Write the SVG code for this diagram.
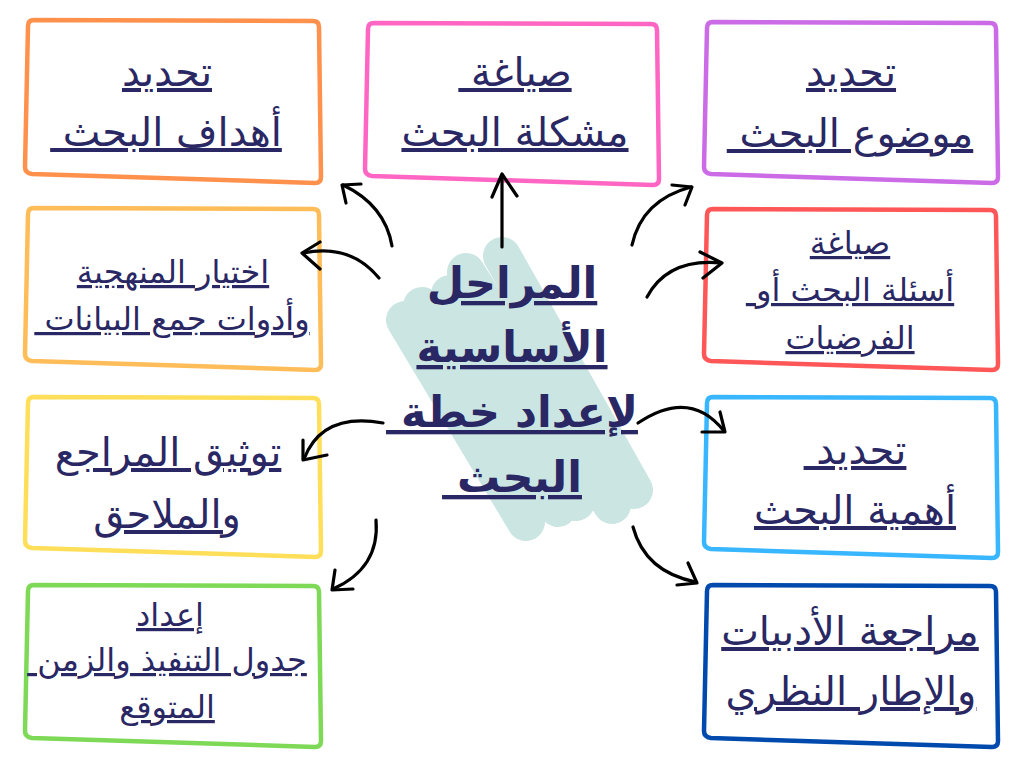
<svg xmlns="http://www.w3.org/2000/svg" width="1024" height="768" viewBox="0 0 1024 768">
<style>
.box{fill:none;stroke-width:4.5;stroke-linejoin:round}
.t{font-family:"DejaVu Sans","Noto Sans",sans-serif;fill:#2a2864;text-anchor:middle;text-decoration:underline;direction:rtl;unicode-bidi:embed}
.big{font-size:40px}
.small{font-size:32px}
.title{font-size:43px;font-weight:bold}
.arrow{fill:none;stroke:#000;stroke-width:3.2;stroke-linecap:round;stroke-linejoin:round}
.brush{fill:none;stroke:#cbe5e2;stroke-width:38;stroke-linecap:round}
</style>
<rect width="1024" height="768" fill="#fff"/>
<g id="center">
<g id="brush">
<line class="brush" x1="502" y1="256" x2="634" y2="490"/>
<line class="brush" x1="466" y1="272" x2="612" y2="505"/>
<line class="brush" x1="450" y1="294" x2="576" y2="502"/>
<line class="brush" x1="422" y1="306" x2="558" y2="508"/>
<line class="brush" x1="405" y1="320" x2="526" y2="522"/>
</g>
<text class="t title" x="512" y="298">المراحل</text>
<text class="t title" x="512" y="362">الأساسية</text>
<text class="t title" x="512" y="427" xml:space="preserve">لإعداد خطة </text>
<text class="t title" x="512" y="492" xml:space="preserve">البحث </text>
</g>
<g id="n1">
<path class="box" stroke="#ff914d" d="M34,20 L313,21 Q319,21 319,27 L321,177 Q321,183 315,183 L32,174 Q25,173 25,167 L28,26 Q28,20 34,20 Z"/>
<text class="t big" x="167" y="86">تحديد</text>
<text class="t big" x="166" y="146" xml:space="preserve">أهداف البحث </text>
</g>
<g id="n2">
<path class="box" stroke="#ff66c4" d="M374,23 L651,24 Q657,24 657,30 L659,179 Q659,185 653,185 L372,176 Q365,175 365,169 L368,29 Q368,23 374,23 Z"/>
<text class="t big" x="515" y="86" xml:space="preserve">صياغة </text>
<text class="t big" x="515" y="146">مشكلة البحث</text>
</g>
<g id="n3">
<path class="box" stroke="#cb6ce6" d="M713,22 L990,23 Q996,23 996,29 L998,177 Q998,183 992,183 L711,174 Q704,173 704,167 L707,28 Q707,22 713,22 Z"/>
<text class="t big" x="851" y="86">تحديد</text>
<text class="t big" x="850" y="147" xml:space="preserve">موضوع البحث </text>
</g>
<g id="n4">
<path class="box" stroke="#ffbd59" d="M34,208 L313,209 Q319,209 319,215 L321,364 Q321,370 315,370 L32,361 Q25,360 25,354 L28,214 Q28,208 34,208 Z"/>
<text class="t small" x="173" y="283">اختيار المنهجية</text>
<text class="t small" x="172" y="330" xml:space="preserve">وأدوات جمع البيانات </text>
</g>
<g id="n5">
<path class="box" stroke="#ff5757" d="M713,209 L990,210 Q996,210 996,216 L998,364 Q998,370 992,370 L711,361 Q704,360 704,354 L707,215 Q707,209 713,209 Z"/>
<text class="t small" x="850" y="254">صياغة</text>
<text class="t small" x="850" y="301" xml:space="preserve">أسئلة البحث أو </text>
<text class="t small" x="850" y="349">الفرضيات</text>
</g>
<g id="n6">
<path class="box" stroke="#ffde59" d="M34,397 L313,398 Q319,398 319,404 L321,551 Q321,557 315,557 L32,548 Q25,547 25,541 L28,403 Q28,397 34,397 Z"/>
<text class="t big" x="168" y="466">توثيق المراجع</text>
<text class="t big" x="167" y="528">والملاحق</text>
</g>
<g id="n7">
<path class="box" stroke="#38b6ff" d="M713,397 L990,398 Q996,398 996,404 L998,552 Q998,558 992,558 L711,549 Q704,548 704,542 L707,403 Q707,397 713,397 Z"/>
<text class="t big" x="855" y="464" xml:space="preserve">تحديد </text>
<text class="t big" x="855" y="524">أهمية البحث</text>
</g>
<g id="n8">
<path class="box" stroke="#7ed957" d="M34,585 L313,586 Q319,586 319,592 L321,741 Q321,747 315,747 L32,738 Q25,737 25,731 L28,591 Q28,585 34,585 Z"/>
<text class="t small" x="170" y="626">إعداد</text>
<text class="t small" x="167" y="671" xml:space="preserve">جدول التنفيذ والزمن </text>
<text class="t small" x="167" y="718">المتوقع</text>
</g>
<g id="n9">
<path class="box" stroke="#004aad" d="M713,585 L990,586 Q996,586 996,592 L998,741 Q998,747 992,747 L711,738 Q704,737 704,731 L707,591 Q707,585 713,585 Z"/>
<text class="t big" x="850" y="645">مراجعة الأدبيات</text>
<text class="t big" x="851" y="705">والإطار النظري</text>
</g>
<g id="connectors">
<path class="arrow" d="M392,246 Q385,205 343,185"/>
<path class="arrow" d="M361,184 L342,185 L346,203"/>
<path class="arrow" d="M379,278 Q350,243 303,253"/>
<path class="arrow" d="M320,242 L302,253 L320,269"/>
<path class="arrow" d="M502,247 L502,175"/>
<path class="arrow" d="M492,197 L502,174 L517,196"/>
<path class="arrow" d="M632,245 Q642,200 691,187"/>
<path class="arrow" d="M672,185 L692,187 L685,205"/>
<path class="arrow" d="M647,297 Q668,258 721,263"/>
<path class="arrow" d="M700,252 L722,263 L703,278"/>
<path class="arrow" d="M383,423 Q322,412 304,459"/>
<path class="arrow" d="M303,440 L303,460 L327,455"/>
<path class="arrow" d="M376,520 Q380,568 333,589"/>
<path class="arrow" d="M335,570 L332,590 L353,589"/>
<path class="arrow" d="M638,423 Q690,388 724,431"/>
<path class="arrow" d="M720,412 L725,432 L702,432"/>
<path class="arrow" d="M633,527 Q645,572 696,582"/>
<path class="arrow" d="M688,563 L697,583 L677,585"/>
</g>
</svg>
